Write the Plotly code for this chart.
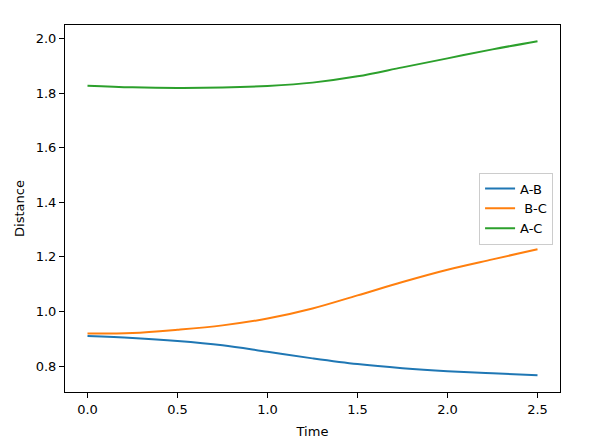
import plotly.graph_objects as go

time = [0.0, 0.25, 0.5, 0.75, 1.0, 1.25, 1.5, 1.75, 2.0, 2.25, 2.5]
ab = [0.910, 0.903, 0.892, 0.876, 0.852, 0.828, 0.807, 0.792, 0.781, 0.773, 0.766]
bc = [0.919, 0.921, 0.933, 0.949, 0.974, 1.011, 1.059, 1.108, 1.153, 1.191, 1.228]
ac = [1.828, 1.822, 1.8195, 1.821, 1.827, 1.839, 1.862, 1.895, 1.928, 1.961, 1.991]

names = ["A-B", " B-C", "A-C"]
colors = ["#1f77b4", "#ff7f0e", "#2ca02c"]

fig = go.Figure()
for name, ys, c in zip(names, [ab, bc, ac], colors):
    fig.add_trace(go.Scatter(x=time, y=ys, mode="lines", name=name,
                             line=dict(color=c, width=2, shape="spline")))

font = dict(family="DejaVu Sans", size=13, color="black")
axis_common = dict(showline=True, linecolor="black", linewidth=1, mirror=True,
                   ticks="outside", ticklen=5, tickwidth=1, tickcolor="black",
                   showgrid=False, zeroline=False, tickfont=font, automargin=False)

# page body has an 8px margin, so the figure is 8px smaller and margins shifted
fig.update_layout(
    width=588, height=431,
    margin=dict(l=57, r=36, t=17, b=47),
    paper_bgcolor="white", plot_bgcolor="white",
    font=font,
    xaxis=dict(range=[-0.125, 2.625], tickvals=[0, 0.5, 1.0, 1.5, 2.0, 2.5],
               tickformat=".1f", title=dict(text="Time", font=font, standoff=12),
               **axis_common),
    yaxis=dict(range=[0.7047, 2.0503], tickvals=[0.8, 1.0, 1.2, 1.4, 1.6, 1.8, 2.0],
               tickformat=".1f", title=dict(text="Distance", font=font, standoff=8),
               **axis_common),
    legend=dict(x=0.986, y=0.5, xanchor="right", yanchor="middle",
                bgcolor="rgba(255,255,255,0.8)", bordercolor="#cccccc", borderwidth=1,
                font=font, itemwidth=30, tracegroupgap=0),
    showlegend=True,
)

fig.write_html("out.html")
